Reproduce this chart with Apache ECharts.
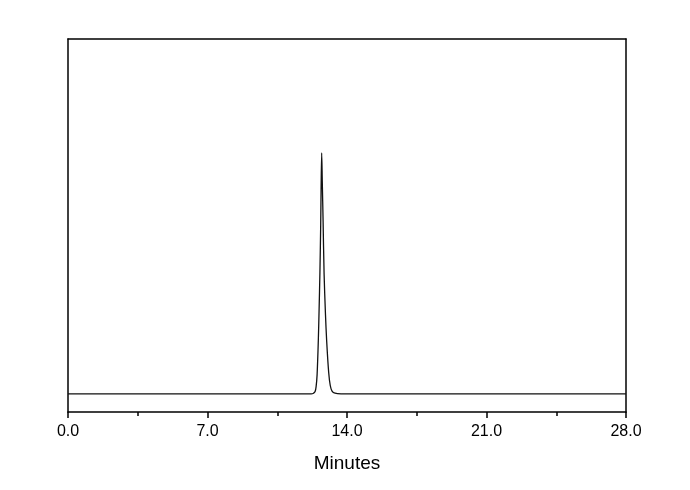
<!DOCTYPE html>
<html>
<head>
<meta charset="utf-8">
<script src="https://cdn.jsdelivr.net/npm/echarts@6/dist/echarts.min.js"></script>
<style>html,body{margin:0;padding:0;background:#fff}#c{width:690px;height:490px}</style>
</head>
<body>
<div id="c"></div>
<script>
// Retention time (minutes) and detector response (relative units)
const times  = [0, 5, 10, 12.2, 12.3, 12.4, 12.45, 12.5, 12.56, 12.6, 12.64, 12.68, 12.7, 12.73, 12.76, 12.8, 12.85, 12.92, 12.98, 13.08, 13.16, 13.25, 13.4, 13.7, 18, 23, 28];
const values = [0, 0, 0, 0.05, 0.2, 1.0, 3, 8, 22, 35, 50, 70, 85, 100, 88, 72, 50, 33, 22, 9, 3.5, 1.2, 0.3, 0.05, 0, 0, 0];
const xTicks = [0, 7, 14, 21, 28];
const xTitle = 'Minutes';

const data = times.map((t, i) => [t, values[i]]);
const chart = echarts.init(document.getElementById('c'));
const FONT = 'Liberation Sans, Arial, sans-serif';
chart.setOption({
  animation: false,
  backgroundColor: '#fff',
  grid: { left: 68, right: 64, top: 39, bottom: 78, show: false },
  xAxis: [{
    type: 'value', position: 'bottom', min: xTicks[0], max: xTicks[xTicks.length - 1], interval: 7,
    axisLine: { show: true, onZero: false, lineStyle: { color: '#000', width: 1.5 } },
    axisTick: { show: true, inside: false, length: 6, lineStyle: { color: '#000', width: 1.5 } },
    minorTick: { show: true, splitNumber: 2, length: 4, lineStyle: { color: '#000', width: 1.5 } },
    splitLine: { show: false },
    axisLabel: { color: '#000', fontSize: 16, fontFamily: FONT, margin: 12, formatter: v => v.toFixed(1) },
    name: xTitle, nameLocation: 'middle', nameGap: 42,
    nameTextStyle: { color: '#000', fontSize: 19, fontFamily: FONT }
  }, {
    type: 'value', position: 'top', min: 0, max: 28,
    axisLine: { show: true, onZero: false, lineStyle: { color: '#000', width: 1.5 } },
    axisTick: { show: false }, axisLabel: { show: false }, splitLine: { show: false }
  }],
  yAxis: [{
    type: 'value', min: -7.5, max: 147.3,
    axisLine: { show: true, onZero: false, lineStyle: { color: '#000', width: 1.5 } },
    axisTick: { show: false }, axisLabel: { show: false }, splitLine: { show: false }
  }, {
    type: 'value', position: 'right', min: -7.5, max: 147.3,
    axisLine: { show: true, onZero: false, lineStyle: { color: '#000', width: 1.5 } },
    axisTick: { show: false }, axisLabel: { show: false }, splitLine: { show: false }
  }],
  series: [{
    type: 'line', data: data, xAxisIndex: 0, yAxisIndex: 0,
    showSymbol: false, smooth: 0.3,
    lineStyle: { color: '#111', width: 1.3 }
  }]
});
</script>
</body>
</html>
